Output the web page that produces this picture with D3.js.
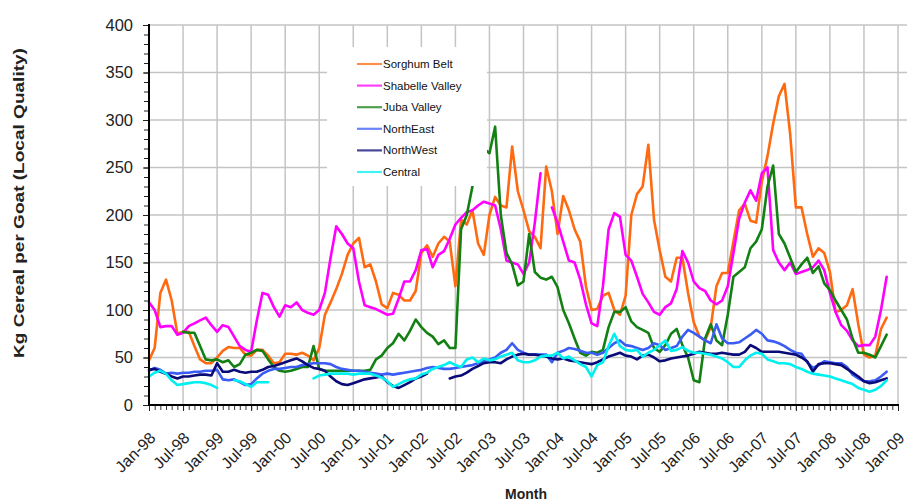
<!DOCTYPE html>
<html>
<head>
<meta charset="utf-8">
<script src="https://cdn.jsdelivr.net/npm/d3@7"></script>
<style>
  html, body { margin: 0; padding: 0; background: #fff; }
  svg { display: block; font-family: Arial, "Liberation Sans", sans-serif; }
</style>
</head>
<body>
<svg id="chart" width="907" height="504"></svg>
<script>
// Monthly series, index 0 = Jan-98 ... index 130 = Nov-08 (null = no data)
const sorghumBelt = [
  47, 60, 118, 132, 110, 75, 77, 77, 62, 48,
  44, 44, 50, 57, 61, 60, 60, 53, 52, 58,
  58, 52, 44, 45, 54, 54, 53, 55, 52, 47,
  60, 95, 108, 122, 138, 158, 170, 176, 145, 148,
  130, 106, 102, 118, 116, 110, 110, 120, 160, 168,
  156, 170, 177, 172, 125, 195, 190, 205, 170, 158,
  200, 219, 210, 208, 272, 225, 205, 183, 177, 165,
  251, 225, 180, 220, 205, 185, 172, 125, 100, 101,
  115, 118, 100, 95, 115, 200, 222, 230, 274, 195,
  163, 135, 130, 155, 155, 118, 87, 72, 68, 82,
  125, 139, 139, 172, 205, 212, 194, 192, 235, 262,
  296, 325, 338, 285, 208, 208, 180, 156, 165, 160,
  140, 98, 100, 105, 122, 85, 53, 50, 52, 80, 92
];
const shabelleValley = [
  108, 100, 82, 83, 83, 74, 76, 83, 86, 89,
  92, 84, 77, 84, 82, 72, 62, 58, 56, 89,
  118, 116, 103, 93, 105, 103, 108, 100, 97, 95,
  100, 118, 155, 188, 180, 170, 165, 130, 105, 103,
  101, 98, 95, 96, 112, 130, 130, 142, 163, 164,
  145, 158, 162, 175, 190, 197, 203, 205, 210, 214,
  212, 210, 185, 152, 150, 148, 138, 150, 192, 244,
  null, 208, 192, 172, 152, 150, 132, 106, 86, 83,
  125, 185, 202, 198, 158, 152, 135, 117, 108, 98,
  95, 103, 107, 122, 162, 150, 130, 123, 120, 110,
  106, 110, 125, 160, 196, 213, 226, 215, 244, 250,
  163, 150, 142, 150, 138, 140, 142, 145, 152, 142,
  118, 98, 84, 78, 68, 62, 63, 63, 72, 100, 135
];
const jubaValley = [
  null, null, null, null, null, null, 77, 76, 76, 62,
  48, 47, 48, 45, 47, 40, 43, 53, 55, 58,
  57, 48, 40, 36, 35, 36, 38, 40, 40, 62,
  38, 36, 36, 36, 36, 36, 36, 36, 36, 37,
  48, 52, 60, 65, 75, 68, 78, 90, 82, 76,
  72, 64, 68, 60, 60, 185, 200, 230, 262, 270,
  265, 293, 200, 160, 148, 126, 130, 180, 140, 134,
  132, 135, 124, 100, 86, 70, 55, 52, 56, 55,
  58, 82, 98, 98, 103, 88, 82, 79, 76, 60,
  56, 63, 75, 80, 63, 50, 26, 24, 70, 85,
  68, 63, 95, 135, 140, 145, 165, 172, 185, 230,
  252, 180, 170, 155, 140, 148, 155, 139, 146, 128,
  121, 110, 100, 90, 70, 55, 55, 53, 50, 62, 74
];
const northEast = [
  36, 39, 37, 33, 34, 33, 34, 34, 35, 35,
  36, 36, 37, 27, 26, 27, 24, 21, 22, 28,
  33, 36, 38, 38, 39, 40, 40, 42, 43, 44,
  44, 44, 43, 40, 38, 37, 36, 36, 35, 34,
  33, 32, 33, 32, 33, 34, 35, 36, 37, 39,
  40, 39, 38, 38, 39, 40, 41, 42, 44, 46,
  48, 50, 55, 58, 65, 58, 55, 53, 53, 53,
  53, 45, 55, 57, 60, 59, 57, 55, 55, 53,
  55, 60, 65, 68, 63, 62, 60, 58, 60, 65,
  63, 58, 60, 62, 72, 79, 76, 72, 68, 65,
  85, 70, 65, 65, 66, 70, 74, 79, 75, 68,
  67, 65, 62, 58, 55, 54, 45, 39, 42, 46,
  45, 44, 44, 40, 32, 28, 25, 25, 26, 30, 35
];
const northWest = [
  37, 38, 35, 33, 30, 28, 30, 30, 31, 32,
  32, 31, 44, 35, 35, 37, 35, 34, 35, 35,
  37, 40, 41, 43, 45, 47, 49, 46, 42, 39,
  38, 36, 30, 25, 22, 21, 23, 25, 27, 28,
  29, 30, 24, 20, 18, 21, 24, 28, 30, 33,
  null, null, null, 28, 30, 31, 34, 38, 41, 44,
  45, 45, 44, 48, 51, 53, 54, 53, 53, 52,
  51, 49, 48, 49, 47, 46, 45, 44, 43, 45,
  48, 51, 53, 55, 52, 51, 48, 52, 53, 50,
  46, 47, 49, 50, 51, 52, 54, 56, 55, 54,
  54, 55, 54, 53, 53, 56, 63, 60, 56, 56,
  56, 56, 55, 54, 53, 50, 46, 35, 43, 44,
  44, 43, 42, 38, 34, 30, 25, 23, 24, 26, 28
];
const central = [
  30, 34, 36, 33, 26, 21, 22, 23, 24, 24,
  23, 21, 18, null, null, 26, 25, 22, 19, 24,
  24, 24, null, null, null, null, null, null, null, 28,
  31, 32, 33, 33, 33, 33, 32, 33, 33, 33,
  31, 29, 25, 19, 22, 25, 27, 28, 32, 34,
  38, 40, 42, 45, 42, 40, 48, 50, 45, 49,
  47, 48, 51, 53, 55, 47, 45, 45, 47, 51,
  52, 52, 55, 49, 51, 47, 43, 40, 30, 42,
  45, 62, 75, 62, 58, 57, 58, 51, 55, 58,
  63, 68, 57, 58, 61, 57, 55, 55, 54, 53,
  51, 49, 45, 40, 40, 47, 52, 55, 54, 48,
  46, 44, 44, 43, 40, 38, 35, 33, 32, 31,
  30, 28, 26, 24, 22, 18, 16, 14, 16, 20, 26
];

const seriesNames  = ["Sorghum Belt", "Shabelle Valley", "Juba Valley", "NorthEast", "NorthWest", "Central"];
const seriesValues = [sorghumBelt, shabelleValley, jubaValley, northEast, northWest, central];
const seriesColors = ["#ff6a10", "#ff00ff", "#138013", "#3a5cf5", "#0a0a78", "#00f0f0"];

// Category axis: month index of every labelled tick, and its label
const tickMonths = d3.range(0, 133, 6);
const tickLabels = ["Jan-98", "Jul-98", "Jan-99", "Jul-99", "Jan-00", "Jul-00", "Jan-01", "Jul-01",
  "Jan-02", "Jul-02", "Jan-03", "Jul-03", "Jan-04", "Jul-04", "Jan-05", "Jul-05",
  "Jan-06", "Jul-06", "Jan-07", "Jul-07", "Jan-08", "Jul-08", "Jan-09"];
const yTicks = d3.range(0, 401, 50);

const svg = d3.select("#chart");
const x = d3.scaleLinear().domain([0, 132]).range([149, 898]);
const y = d3.scaleLinear().domain([0, 400]).range([405, 25]);

// Gridlines
const grid = svg.append("g").attr("stroke", "#c4c4c4").attr("stroke-width", 1.5);
grid.selectAll("line.h").data(yTicks.slice(1)).join("line")
  .attr("x1", x(0)).attr("x2", 907)
  .attr("y1", d => y(d)).attr("y2", d => y(d));
grid.selectAll("line.v").data(tickMonths.slice(1)).join("line")
  .attr("x1", d => x(d)).attr("x2", d => x(d))
  .attr("y1", y(400)).attr("y2", y(0));

// Series lines
const line = d3.line()
  .defined(d => d != null)
  .x((d, i) => x(i))
  .y(d => y(d));
svg.append("g").selectAll("path").data(seriesValues).join("path")
  .attr("d", d => line(d))
  .attr("fill", "none")
  .attr("stroke", (d, i) => seriesColors[i])
  .attr("stroke-width", 2.6)
  .attr("stroke-linejoin", "round")
  .attr("stroke-linecap", "round");

// Y axis: minor ticks every 10, labels every 50
const yMinor = svg.append("g").attr("transform", `translate(${x(0)},0)`)
  .call(d3.axisLeft(y).tickValues(d3.range(0, 401, 10)).tickSize(5).tickFormat(""));
const yMajor = svg.append("g").attr("transform", `translate(${x(0)},0)`)
  .call(d3.axisLeft(y).tickValues(yTicks).tickSize(6).tickPadding(10));
[yMinor, yMajor].forEach(g => {
  g.select(".domain").remove();
  g.selectAll(".tick line").attr("stroke", "#222").attr("stroke-width", 1);
});
yMajor.selectAll("text").attr("font-size", 16.5).attr("fill", "#222");

// X axis: monthly minor ticks, rotated labels every six months
const xMinor = svg.append("g").attr("transform", `translate(0,${y(0)})`)
  .call(d3.axisBottom(x).tickValues(d3.range(0, 133, 1)).tickSize(5).tickFormat(""));
xMinor.select(".domain").remove();
xMinor.selectAll(".tick line").attr("stroke", "#333").attr("stroke-width", 1);
const xMajor = svg.append("g").attr("transform", `translate(0,${y(0)})`)
  .call(d3.axisBottom(x).tickValues(tickMonths).tickSize(6)
    .tickFormat((d, i) => tickLabels[i]));
xMajor.select(".domain").remove();
xMajor.selectAll(".tick line").attr("stroke", "#222").attr("stroke-width", 1);
xMajor.selectAll("text")
  .attr("font-size", 16).attr("fill", "#222")
  .attr("text-anchor", "end")
  .attr("x", 0).attr("y", 0).attr("dy", "0.35em")
  .attr("transform", "translate(3,30) rotate(-45)");

// Axis lines
svg.append("line").attr("x1", x(0)).attr("x2", x(0)).attr("y1", y(400) - 1).attr("y2", y(0) + 1)
  .attr("stroke", "#000").attr("stroke-width", 2);
svg.append("line").attr("x1", x(0) - 1).attr("x2", x(132) + 1).attr("y1", y(0)).attr("y2", y(0))
  .attr("stroke", "#000").attr("stroke-width", 2);

// Legend (drawn over the plot area)
const legend = svg.append("g");
legend.append("rect").attr("x", 327).attr("y", 47).attr("width", 160).attr("height", 139).attr("fill", "#fff");
const rows = legend.selectAll("g.row").data(seriesNames).join("g")
  .attr("transform", (d, i) => `translate(357,${64 + i * 21.6})`);
rows.append("line").attr("x1", 0).attr("x2", 25).attr("y1", 0).attr("y2", 0)
  .attr("stroke", (d, i) => seriesColors[i]).attr("stroke-width", 2.2).attr("stroke-opacity", 0.75);
rows.append("text").attr("x", 26).attr("y", 0).attr("dy", "0.35em")
  .attr("font-size", 11.5).attr("fill", "#111").text(d => d);

// Axis titles
svg.append("text").attr("x", 526).attr("y", 499).attr("text-anchor", "middle")
  .attr("font-size", 14).attr("font-weight", "bold").attr("fill", "#222").text("Month");
svg.append("text").attr("transform", "translate(24,203) rotate(-90) scale(1.36,1)").attr("text-anchor", "middle")
  .attr("font-size", 14).attr("font-weight", "bold").attr("fill", "#222")
  .text("Kg Cereal per Goat (Local Quality)");
</script>
</body>
</html>
